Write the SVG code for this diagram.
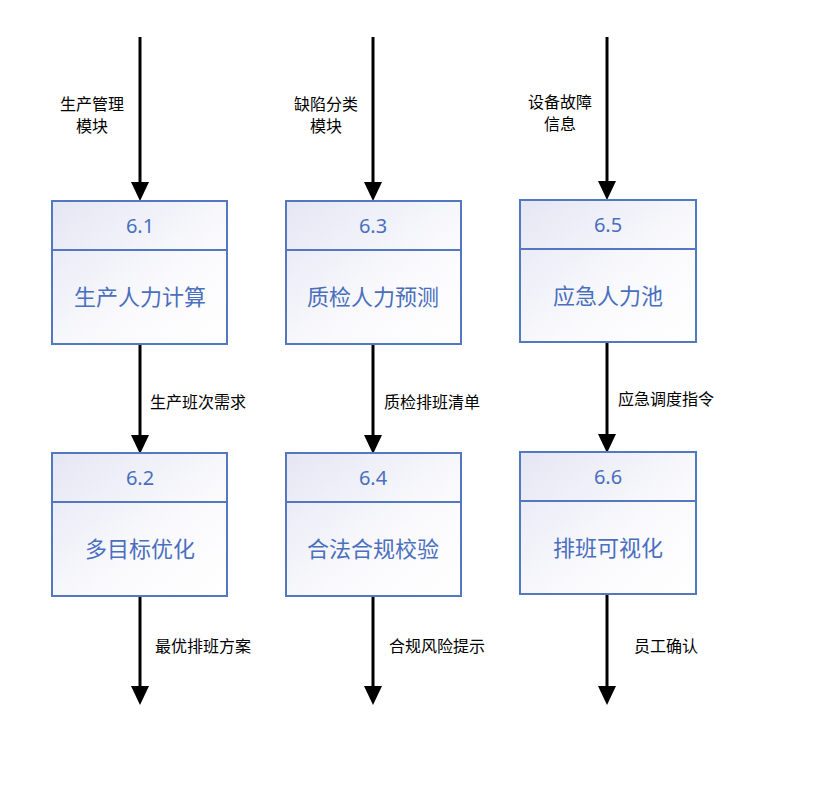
<svg xmlns="http://www.w3.org/2000/svg" width="831" height="799" viewBox="0 0 831 799">
<defs>
<linearGradient id="g" x1="0" y1="0" x2="1" y2="1">
<stop offset="0" stop-color="#E4E6F3"/>
<stop offset="0.6" stop-color="#FAFAFD"/>
<stop offset="1" stop-color="#FFFFFF"/>
</linearGradient>
<style>
.box{fill:url(#g);stroke:#5478C0;stroke-width:2}
.div{stroke:#5478C0;stroke-width:2}
.num{font-family:"Noto Sans","Noto Sans CJK SC",sans-serif;font-size:20px;fill:#4A6FBE;text-anchor:middle}
.name{font-family:"Noto Sans CJK SC",sans-serif;font-size:22px;fill:#4A6FBE;text-anchor:middle}
.lbl{font-family:"Noto Sans CJK SC",sans-serif;font-size:16px;fill:#000}
.mid{text-anchor:middle}
.ln{stroke:#000;stroke-width:3;fill:none}
.hd{fill:#000}
</style>
</defs>
<rect width="831" height="799" fill="#FFFFFF"/>
<g id="connectors">
<line class="ln" x1="140" y1="37" x2="140" y2="184"/><polygon class="hd" points="131,182 149,182 140,201"/>
<line class="ln" x1="373" y1="37" x2="373" y2="184"/><polygon class="hd" points="364,182 382,182 373,201"/>
<line class="ln" x1="607" y1="37" x2="607" y2="183"/><polygon class="hd" points="598,181 616,181 607,200"/>
<line class="ln" x1="140" y1="344" x2="140" y2="437"/><polygon class="hd" points="131,435 149,435 140,454"/>
<line class="ln" x1="373" y1="344" x2="373" y2="437"/><polygon class="hd" points="364,435 382,435 373,454"/>
<line class="ln" x1="607" y1="342" x2="607" y2="436"/><polygon class="hd" points="598,434 616,434 607,453"/>
<line class="ln" x1="140" y1="596" x2="140" y2="688"/><polygon class="hd" points="131,686 149,686 140,705"/>
<line class="ln" x1="373" y1="596" x2="373" y2="688"/><polygon class="hd" points="364,686 382,686 373,705"/>
<line class="ln" x1="607" y1="594" x2="607" y2="688"/><polygon class="hd" points="598,686 616,686 607,705"/>
<text class="lbl mid" x="92" y="110">生产管理</text>
<text class="lbl mid" x="92" y="132">模块</text>
<text class="lbl mid" x="326" y="110">缺陷分类</text>
<text class="lbl mid" x="326" y="132">模块</text>
<text class="lbl mid" x="560" y="108">设备故障</text>
<text class="lbl mid" x="560" y="130">信息</text>
<text class="lbl" x="150" y="408">生产班次需求</text>
<text class="lbl" x="384" y="408">质检排班清单</text>
<text class="lbl" x="618" y="405">应急调度指令</text>
<text class="lbl" x="155" y="652">最优排班方案</text>
<text class="lbl" x="389" y="652">合规风险提示</text>
<text class="lbl" x="634" y="652">员工确认</text>
</g>
<g id="n61"><rect class="box" x="52" y="201" width="175" height="143"/><line class="div" x1="52" y1="250" x2="227" y2="250"/><text class="num" x="140" y="233">6.1</text><text class="name" x="140" y="305">生产人力计算</text></g>
<g id="n63"><rect class="box" x="286" y="201" width="175" height="143"/><line class="div" x1="286" y1="250" x2="461" y2="250"/><text class="num" x="373" y="233">6.3</text><text class="name" x="373" y="305">质检人力预测</text></g>
<g id="n65"><rect class="box" x="520" y="200" width="176" height="142"/><line class="div" x1="520" y1="249" x2="696" y2="249"/><text class="num" x="608" y="232">6.5</text><text class="name" x="608" y="304">应急人力池</text></g>
<g id="n62"><rect class="box" x="52" y="453" width="175" height="143"/><line class="div" x1="52" y1="502" x2="227" y2="502"/><text class="num" x="140" y="485">6.2</text><text class="name" x="140" y="557">多目标优化</text></g>
<g id="n64"><rect class="box" x="286" y="453" width="175" height="143"/><line class="div" x1="286" y1="502" x2="461" y2="502"/><text class="num" x="373" y="485">6.4</text><text class="name" x="373" y="557">合法合规校验</text></g>
<g id="n66"><rect class="box" x="520" y="452" width="176" height="142"/><line class="div" x1="520" y1="501" x2="696" y2="501"/><text class="num" x="608" y="484">6.6</text><text class="name" x="608" y="556">排班可视化</text></g>
</svg>
